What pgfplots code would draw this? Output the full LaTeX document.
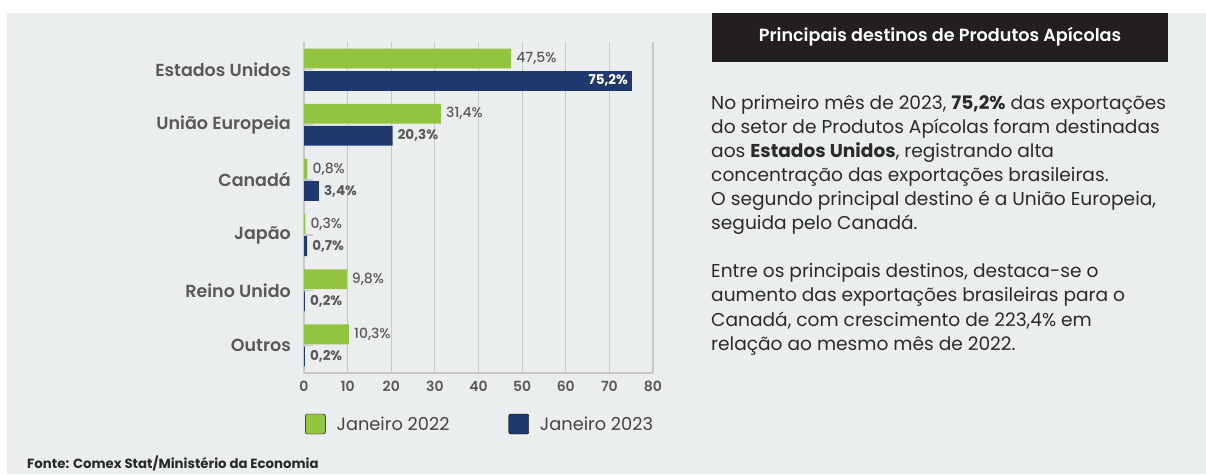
\documentclass[border=0pt]{standalone}
\usepackage{fontspec}
\setmainfont{Poppins}
\IfFontExistsTF{Poppins SemiBold}{\newfontfamily\psemi{Poppins SemiBold}}{\newcommand\psemi{\bfseries}}
\IfFontExistsTF{Poppins Medium}{\newfontfamily\pmed{Poppins Medium}}{\newcommand\pmed{\mdseries}}
\usepackage{pgfplots}
\pgfplotsset{compat=1.18}

\definecolor{cgreen}{HTML}{92C440}
\definecolor{cblue}{HTML}{1F396E}
\definecolor{cbg}{HTML}{EBEEEF}
\definecolor{cgrid}{HTML}{C6C7C8}
\definecolor{ctext}{HTML}{58595B}
\definecolor{clegend}{HTML}{444444}
\definecolor{cbody}{HTML}{2B2A2A}
\definecolor{cbox}{HTML}{231F20}

\newcommand\pct{\pgfmathprintnumber[fixed,fixed zerofill,precision=1,use comma]{\pgfplotspointmeta}\%}

\begin{document}
\begin{tikzpicture}[x=1pt,y=1pt]
% page frame: white margin, grey panel
\fill[white] (0,0) rectangle (1206,474);
\fill[cbg] (7,0) rectangle (1206,461);

\begin{axis}[
    at={(304pt,101pt)}, anchor=south west,
    width=349pt, height=331pt, scale only axis,
    xbar, bar width=0.36,
    xmin=0, xmax=80, ymin=-0.5, ymax=5.5,
    xtick={0,10,...,80}, ytick={0,...,5},
    yticklabels={Outros,Reino Unido,Japão,Canadá,União Europeia,Estados Unidos},
    xmajorgrids, grid style={cgrid, line width=1.2pt},
    axis x line*=bottom, axis y line*=left,
    axis line style={cgrid, line width=1.2pt},
    tick align=inside, major tick length=9pt,
    xtick style={draw=none}, ytick style={cgrid, line width=1.2pt},
    /pgf/number format/assume math mode=true,
    xticklabel={\pgfmathprintnumber{\tick}},
    xticklabel style={font=\psemi\fontsize{14}{16}\selectfont, text=ctext, inner sep=0pt, yshift=-8pt},
    yticklabel style={font=\psemi\fontsize{17.5}{21}\selectfont, text=ctext, inner sep=0pt, xshift=-13pt},
    point meta=x,
    nodes near coords={\pct},
    nodes near coords style={anchor=west, inner sep=0pt, xshift=5pt, text=ctext},
    legend columns=2,
    legend image code/.code={\fill[rounded corners=2pt] (0pt,-10pt) rectangle (20pt,10pt);},
    legend style={draw=none, fill=none, at={(axis description cs:0,0)}, anchor=west,
        xshift=1pt, yshift=-51pt, inner sep=0pt,
        font=\fontsize{17.8}{20}\selectfont, text=clegend,
        nodes={inner sep=0pt},
        /tikz/every odd column/.style={column sep=11pt},
        /tikz/every even column/.style={column sep=59pt}},
]
\addlegendimage{fill=cgreen}\addlegendentry{Janeiro 2022}
\addlegendimage{fill=cblue}\addlegendentry{Janeiro 2023}

\addplot[forget plot, fill=cgreen, draw=none, bar shift=0.2,
    nodes near coords style={font=\pmed\fontsize{14}{16}\selectfont}]
    coordinates {(47.5,5) (31.4,4) (0.8,3) (0.3,2) (9.8,1) (10.3,0)};
\addplot[forget plot, fill=cblue, draw=none, bar shift=-0.2,
    nodes near coords style={font=\bfseries\fontsize{13.5}{16}\selectfont}]
    coordinates {(20.3,4) (3.4,3) (0.7,2) (0.2,1) (0.2,0)};
\addplot[forget plot, fill=cblue, draw=none, bar shift=-0.2,
    nodes near coords style={font=\bfseries\fontsize{13.5}{16}\selectfont,
        anchor=east, xshift=-9pt, text=white}]
    coordinates {(75.2,5)};
\end{axis}

% title box
\fill[cbox] (712,412) rectangle (1168,461);
\node[text=white, font=\psemi\fontsize{17.6}{20}\selectfont] at (940,437.5) {Principais destinos de Produtos Apícolas};

% commentary
\begin{scope}[every node/.style={anchor=base west, inner sep=0pt, text=cbody, font=\fontsize{18.6}{24}\selectfont}]
\node at (711,364) {No primeiro mês de 2023, \textbf{75,2\%} das exportações};
\node at (711,340) {do setor de Produtos Apícolas foram destinadas};
\node at (711,316) {aos \textbf{Estados Unidos}, registrando alta};
\node at (711,292) {concentração das exportações brasileiras.};
\node at (711,268) {O segundo principal destino é a União Europeia,};
\node at (711,244) {seguida pelo Canadá.};
\node at (711,196) {Entre os principais destinos, destaca-se o};
\node at (711,172) {aumento das exportações brasileiras para o};
\node at (711,148) {Canadá, com crescimento de 223,4\% em};
\node at (711,124) {relação ao mesmo mês de 2022.};
\end{scope}

% source
\node[anchor=west, inner sep=0pt, text=cbody, font=\bfseries\fontsize{13.3}{15}\selectfont] at (27,11) {Fonte: Comex Stat/Ministério da Economia};
\end{tikzpicture}
\end{document}
